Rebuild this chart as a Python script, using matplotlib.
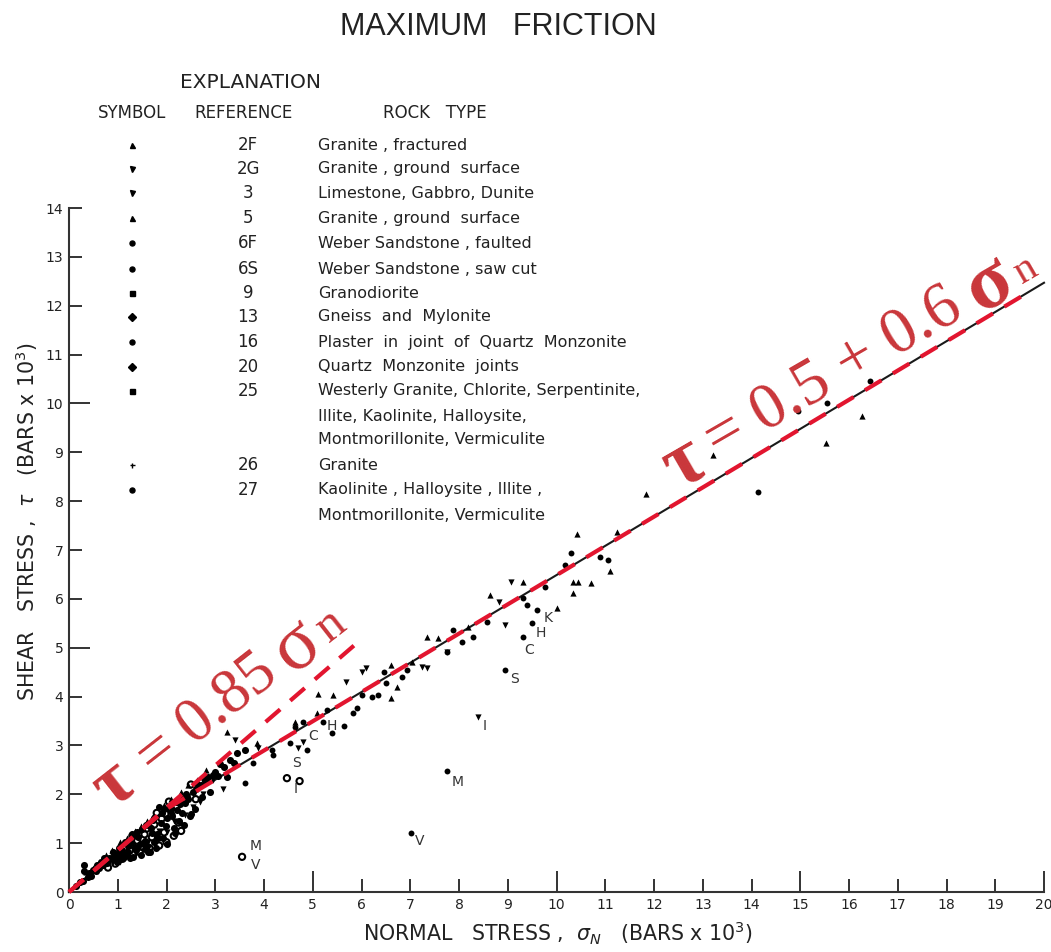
import matplotlib
matplotlib.use("Agg")
import matplotlib.pyplot as plt

W, H = 1051, 952

x_ticks = list(range(0, 21))
y_ticks = list(range(0, 15))

# fitted lines
black_x = [0, 2, 20.0]
black_y = [0, 1.7, 12.47]
red_x = [0, 2, 19.72]
red_y = [0, 1.7, 12.3]
red_upper_x = [0, 5.98]
red_upper_y = [0, 5.16]

# points, stress in bars x 10^3
tri_up_x = [13.2, 11.84, 16.27, 15.52, 10.43, 11.24, 11.1, 10.34, 10.45, 10.71, 10.34, 9.32, 8.64, 10.01, 8.18,
            7.35, 7.57, 5.1, 5.41, 6.61, 6.73, 4.63, 5.08, 3.86, 3.24, 6.61, 7.04, 1.6, 1.35, 1.05, 0.75,
            2.1, 2.45, 2.8, 0.35, 0.5, 0.62, 0.88, 1.18, 1.48, 1.72, 1.95, 2.3, 2.62]
tri_up_y = [8.95, 8.15, 9.74, 9.2, 7.33, 7.37, 6.57, 6.35, 6.35, 6.33, 6.12, 6.35, 6.08, 5.81, 5.42,
            5.22, 5.2, 4.05, 4.03, 3.97, 4.2, 3.48, 3.66, 3.05, 3.28, 4.65, 4.71, 1.45, 1.25, 1.02, 0.75,
            1.9, 2.2, 2.5, 0.4, 0.5, 0.62, 0.85, 1.1, 1.35, 1.55, 1.78, 2.05, 2.3]
tri_down_x = [9.07, 8.83, 7.75, 7.35, 7.24, 6.02, 6.1, 5.69, 4.8, 4.69, 3.16, 3.41, 3.88, 2.55, 2.75, 2.95,
              1.85, 2.15, 1.2, 0.9, 0.6, 8.95, 8.38, 1.05, 1.38, 1.62, 2.02, 2.38, 2.68]
tri_down_y = [6.35, 5.94, 4.91, 4.58, 4.61, 4.5, 4.58, 4.3, 3.07, 2.95, 2.11, 3.11, 2.95, 1.75, 2.0, 2.3,
              1.25, 1.45, 0.8, 0.62, 0.42, 5.47, 3.58, 0.62, 0.78, 1.02, 1.22, 1.58, 1.85]
filled_x = [16.43, 15.55, 14.13, 10.3, 10.18, 10.9, 11.06, 9.76, 9.32, 9.4, 9.6, 9.5, 9.32, 8.95, 8.58,
            7.88, 7.75, 8.06, 8.29, 7.75, 7.02, 3.6, 5.39, 5.65, 5.3, 5.9, 5.82, 6.22, 6.33, 6.02, 6.47, 6.51,
            6.84, 6.94, 4.16, 4.18, 4.53, 4.88, 5.2, 3.78, 4.63, 4.8, 14.95]
filled_y = [10.46, 10.0, 8.19, 6.94, 6.69, 6.86, 6.8, 6.24, 6.02, 5.88, 5.77, 5.51, 5.22, 4.54, 5.53,
            5.36, 4.91, 5.12, 5.22, 2.48, 1.21, 2.23, 3.25, 3.4, 3.73, 3.77, 3.66, 3.99, 4.03, 4.03, 4.5, 4.28,
            4.4, 4.54, 2.91, 2.8, 3.05, 2.91, 3.48, 2.64, 3.38, 3.48, 9.85]
# dense part near the origin
cluster_x = [0.15, 0.22, 0.28, 0.3, 0.3, 0.38, 0.45, 0.55, 0.62, 0.7, 0.78, 0.85, 0.92, 1.0, 1.08, 1.12,
             1.2, 1.28, 1.35, 1.42, 1.5, 1.55, 1.6, 1.68, 1.75, 1.82, 1.9, 1.98, 2.05, 2.12, 2.2, 2.25, 2.32,
             2.4, 2.5, 2.6, 2.7, 2.85, 3.0, 3.1, 3.3, 3.45, 3.6,
             0.4, 0.5, 0.58, 0.66, 0.72, 0.82, 0.9, 0.98, 1.02, 1.1, 1.15, 1.22, 1.3, 1.32, 1.4, 1.45,
             1.52, 1.58, 1.62, 1.7, 1.72, 1.78, 1.85, 1.92, 1.95, 2.02, 2.08, 2.18, 2.28, 2.35, 2.42, 2.48,
             2.55, 2.58, 2.65, 2.72, 2.78, 2.9, 2.95, 3.05, 3.18, 3.25, 3.38,
             0.95, 1.05, 1.18, 1.25, 1.38, 1.48, 1.55, 1.66, 1.74, 1.8, 1.88, 2.0, 2.1, 2.15, 2.22, 2.38, 2.45]
cluster_y = [0.12, 0.2, 0.22, 0.42, 0.55, 0.3, 0.32, 0.42, 0.5, 0.56, 0.6, 0.68, 0.72, 0.78, 0.86, 0.72,
             0.95, 1.0, 0.92, 1.12, 1.28, 1.05, 0.95, 1.3, 1.52, 1.1, 1.62, 1.35, 1.72, 1.55, 1.85, 1.45, 1.62,
             2.0, 1.6, 2.1, 2.2, 2.35, 2.45, 2.62, 2.7, 2.85, 2.9,
             0.38, 0.45, 0.55, 0.62, 0.7, 0.7, 0.82, 0.62, 0.9, 0.76, 1.02, 0.82, 1.18, 0.72, 1.22, 0.98,
             1.0, 1.38, 0.82, 1.2, 1.48, 0.9, 1.75, 1.1, 1.7, 0.98, 1.65, 1.2, 1.8, 1.38, 1.95, 1.55,
             2.05, 1.7, 2.2, 1.95, 2.3, 2.05, 2.4, 2.38, 2.55, 2.35, 2.65,
             0.72, 0.68, 0.78, 0.7, 0.85, 0.75, 0.88, 0.82, 1.02, 1.18, 1.42, 1.52, 1.72, 1.3, 1.68, 1.82, 1.9]
open_x = [3.55, 4.47, 4.73, 1.25, 1.4, 1.45, 1.55, 1.65, 1.7, 1.75, 1.85, 1.95, 2.0, 2.1, 2.15, 2.25,
          2.3, 1.1, 0.95, 0.8, 1.5, 1.8, 2.05, 2.35, 2.5, 1.3, 1.6, 1.9, 2.2, 2.6, 2.8]
open_y = [0.72, 2.33, 2.27, 0.85, 1.05, 0.82, 1.18, 0.9, 1.12, 1.38, 0.95, 1.22, 1.02, 1.58, 1.15, 1.42,
          1.25, 0.68, 0.58, 0.5, 0.92, 1.62, 1.85, 1.9, 2.2, 1.15, 1.3, 1.5, 1.75, 1.9, 2.3]

letter_labels = ["V", "M", "S", "I", "C", "H", "V", "M", "I", "S", "C", "H", "K"]
letter_x = [3.82, 3.82, 4.67, 4.65, 5.0, 5.4, 7.2, 7.98, 8.53, 9.13, 9.43, 9.68, 9.83]
letter_y = [0.55, 0.95, 2.65, 2.1, 3.2, 3.4, 1.05, 2.25, 3.4, 4.35, 4.95, 5.3, 5.6]

# legend table
legend_refs = ["2F", "2G", "3", "5", "6F", "6S", "9", "13", "16", "20", "25", "26", "27"]
legend_ref_rows = [145, 169, 193, 218, 243, 269, 293, 317, 342, 367, 391, 465, 490]
legend_markers = ["^", "v", "v", "^", "o", "o", "s", "D", "o", "D", "s", "+", "o"]
legend_rock = [
    "Granite , fractured",
    "Granite , ground  surface",
    "Limestone, Gabbro, Dunite",
    "Granite , ground  surface",
    "Weber Sandstone , faulted",
    "Weber Sandstone , saw cut",
    "Granodiorite",
    "Gneiss  and  Mylonite",
    "Plaster  in  joint  of  Quartz  Monzonite",
    "Quartz  Monzonite  joints",
    "Westerly Granite, Chlorite, Serpentinite,",
    "Illite, Kaolinite, Halloysite,",
    "Montmorillonite, Vermiculite",
    "Granite",
    "Kaolinite , Halloysite , Illite ,",
    "Montmorillonite, Vermiculite",
]
legend_rock_rows = [145, 169, 193, 218, 243, 269, 293, 317, 342, 367, 391, 416, 440, 465, 490, 515]

INK = "#222222"
RED = "#c9363a"


def px_text(fig, x, y, s, **kw):
    """画像のピクセル座標でテキストを置く"""
    kw.setdefault("ha", "center")
    kw.setdefault("va", "center")
    kw.setdefault("color", INK)
    return fig.text(x / W, 1 - y / H, s, **kw)


fig = plt.figure(figsize=(W / 100, H / 100), dpi=100)
ax = fig.add_axes([69 / W, (H - 892) / H, 975 / W, 684 / H])
ax.set_xlim(0, 20)
ax.set_ylim(0, 14)
for side in ["top", "right"]:
    ax.spines[side].set_visible(False)
for side in ["left", "bottom"]:
    ax.spines[side].set_linewidth(1.5)
    ax.spines[side].set_color("#333333")

ax.set_xticks([t for t in x_ticks if t % 5 == 0])
ax.set_xticks([t for t in x_ticks if t % 5 != 0], minor=True)
ax.set_yticks([t for t in y_ticks if t % 5 == 0])
ax.set_yticks([t for t in y_ticks if t % 5 != 0], minor=True)
ax.set_xticklabels([str(t) for t in x_ticks if t % 5 == 0])
ax.set_xticklabels([str(t) for t in x_ticks if t % 5 != 0], minor=True)
ax.set_yticklabels([str(t) for t in y_ticks if t % 5 == 0])
ax.set_yticklabels([str(t) for t in y_ticks if t % 5 != 0], minor=True)
ax.tick_params(which="major", direction="in", length=15, width=1.4, color="#333333",
               labelsize=10, labelcolor=INK, pad=4)
ax.tick_params(which="minor", direction="in", length=9.5, width=1.4, color="#333333",
               labelsize=10, labelcolor=INK, pad=4)

# 元の線
ax.plot(black_x, black_y, color="#1a1a1a", lw=1.5, zorder=3, clip_on=False)

# 測定点
ms = dict(color="black", linewidths=0, zorder=4)
ax.scatter(tri_up_x, tri_up_y, marker="^", s=20, **ms)
ax.scatter(tri_down_x, tri_down_y, marker="v", s=20, **ms)
ax.scatter(filled_x, filled_y, marker="o", s=18, **ms)
ax.scatter(cluster_x, cluster_y, marker="o", s=26, **ms)
ax.scatter(open_x, open_y, marker="o", s=20, facecolors="none", edgecolors="black", linewidths=1.5, zorder=4)

for s, x, y in zip(letter_labels, letter_x, letter_y):
    ax.text(x, y, s, fontsize=10, ha="center", va="center", color="#333333", zorder=4)

# 赤い破線
red_line = "#e2152f"
ax.plot(red_x, red_y, color=red_line, lw=3, dashes=(4.6, 3.2), zorder=5, clip_on=False)
ax.plot(red_upper_x, red_upper_y, color=red_line, lw=3, dashes=(4.6, 3.2), zorder=5, clip_on=False)

# タイトルとラベル
px_text(fig, 498, 27, "MAXIMUM   FRICTION", fontsize=22, family="Liberation Sans")
px_text(fig, 558, 933, r"NORMAL   STRESS ,  $\sigma_N$   (BARS x 10$^3$)", fontsize=14.8, family="DejaVu Sans")
px_text(fig, 27, 522, r"SHEAR   STRESS ,  $\tau$   (BARS x 10$^3$)", fontsize=14.8, rotation=90,
        family="DejaVu Sans")

# 凡例
px_text(fig, 250, 83, "EXPLANATION", fontsize=14.5, family="DejaVu Sans")
px_text(fig, 132, 113, "SYMBOL", fontsize=12, family="DejaVu Sans")
px_text(fig, 244, 113, "REFERENCE", fontsize=12, family="DejaVu Sans")
px_text(fig, 435, 113, "ROCK   TYPE", fontsize=12, family="DejaVu Sans")
for ref, row, marker in zip(legend_refs, legend_ref_rows, legend_markers):
    px_text(fig, 248, row, ref, fontsize=12, family="DejaVu Sans")
    hx = 132 / W
    hy = 1 - row / H
    fig.add_artist(plt.Line2D([hx], [hy], marker=marker, ms=3.6, color="black", mew=1,
                              transform=fig.transFigure))
for rock, row in zip(legend_rock, legend_rock_rows):
    px_text(fig, 318, row, rock, ha="left", fontsize=11.5, family="DejaVu Sans")

# 手書き風の赤い式
serif = "Liberation Serif"
rot_a = 30
px_text(fig, 684, 464, "τ", fontsize=58, fontweight="bold", color=RED, family=serif, rotation=rot_a,
        rotation_mode="anchor")
px_text(fig, 834, 374, "= 0.5 + 0.6", fontsize=47, color=RED, family=serif, rotation=rot_a,
        rotation_mode="anchor")
px_text(fig, 990, 285, "σ", fontsize=58, color=RED, family=serif, rotation=rot_a, fontweight="bold",
        rotation_mode="anchor")
px_text(fig, 1026, 270, "n", fontsize=30, color=RED, family=serif, rotation=rot_a, rotation_mode="anchor")

rot_b = 38
px_text(fig, 114, 785, "τ", fontsize=54, color=RED, family=serif, rotation=rot_b, fontweight="bold",
        rotation_mode="anchor")
px_text(fig, 208, 715, "= 0.85", fontsize=45, color=RED, family=serif, rotation=rot_b, rotation_mode="anchor")
px_text(fig, 297, 647, "σ", fontsize=56, color=RED, family=serif, rotation=rot_b, rotation_mode="anchor")
px_text(fig, 331, 626, "n", fontsize=36, color=RED, family=serif, rotation=rot_b, rotation_mode="anchor")

fig.savefig("out.png", dpi=100)
